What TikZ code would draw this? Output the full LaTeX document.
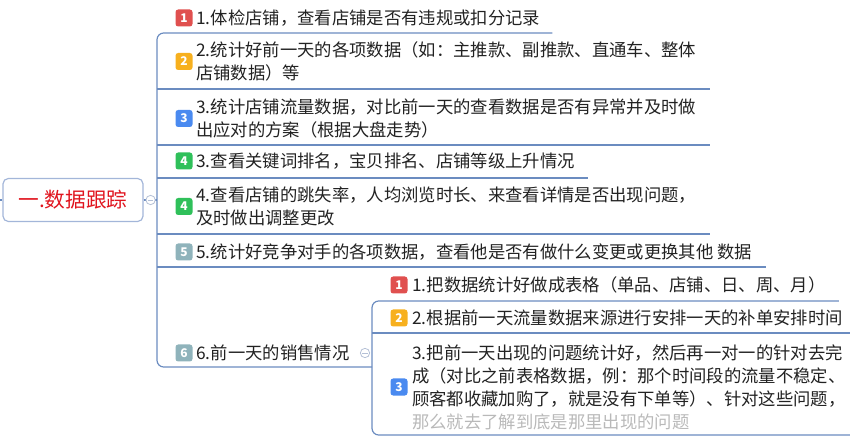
\documentclass[tikz,border=0pt]{standalone}
\usepackage{fontspec}
\setmainfont{Noto Sans CJK SC}
\definecolor{linec}{HTML}{6B8CC0}
\definecolor{rootc}{HTML}{A3B6D9}
\definecolor{foldc}{HTML}{B4C0D6}
\definecolor{textc}{HTML}{222222}
\definecolor{rootred}{HTML}{E0141E}
\definecolor{pri1}{HTML}{E0504F}
\definecolor{pri2}{HTML}{F7B01E}
\definecolor{pri3}{HTML}{4A8AF0}
\definecolor{pri4}{HTML}{2FC05A}
\definecolor{pri5}{HTML}{8FB3BB}

\begin{document}
\begin{tikzpicture}[x=0.75pt,y=-0.75pt,
font=\fontsize{13}{17.25}\selectfont,
branch/.style={draw=linec, line width=0.9pt, rounded corners=5pt},
topic/.style={anchor=west, inner sep=0pt, align=left, text=textc},
badge/.style={fill=#1, rounded corners=2pt, minimum size=12.75pt, inner sep=0pt,
    text=white, font=\fontsize{9}{9}\selectfont\bfseries},
fold/.style={circle, draw=foldc, fill=white, minimum size=7pt, inner sep=0pt, line width=0.6pt,
    path picture={\draw[foldc, line width=0.6pt] ([xshift=-2pt]path picture bounding box.center) -- ++(4pt,0);}},
root/.style={draw=rootc, line width=0.9pt, rounded corners=4pt, minimum width=105pt, minimum height=32.25pt,
    text=rootred, font=\fontsize{15.5}{18}\selectfont},
]
\useasboundingbox (0,0) rectangle (850,438);

\node[root] (root) at (73,200) {一.数据跟踪};
\coordinate (in) at (0,200);

\node[topic] (t1) at (196,18) {1.体检店铺，查看店铺是否有违规或扣分记录};
\node[topic] (t2) at (196,61.5) {2.统计好前一天的各项数据（如：主推款、副推款、直通车、整体\\店铺数据）等};
\node[topic] (t3) at (196,118.5) {3.统计店铺流量数据，对比前一天的查看数据是否有异常并及时做\\出应对的方案（根据大盘走势）};
\node[topic] (t4) at (196,161) {3.查看关键词排名，宝贝排名、店铺等级上升情况};
\node[topic] (t5) at (196,206.5) {4.查看店铺的跳失率，人均浏览时长、来查看详情是否出现问题，\\及时做出调整更改};
\node[topic] (t6) at (196,252) {5.统计好竞争对手的各项数据，查看他是否有做什么变更或更换其他 数据};
\node[topic] (t7) at (196,353) {6.前一天的销售情况};

\node[topic] (s1) at (412,285) {1.把数据统计好做成表格（单品、店铺、日、周、月）};
\node[topic] (s2) at (412,318) {2.根据前一天流量数据来源进行安排一天的补单安排时间};
\node[topic] (s3) at (412,387) {3.把前一天出现的问题统计好，然后再一对一的针对去完\\成（对比之前表格数据，例：那个时间段的流量不稳定、\\顾客都收藏加购了，就是没有下单等）、针对这些问题，\\\textcolor{gray!55}{那么就去了解到底是那里出现的问题}};

\node[badge=pri1] (b1) at (184,18) {1};
\node[badge=pri2] (b2) at (184,61.5) {2};
\node[badge=pri3] (b3) at (184,118.5) {3};
\node[badge=pri4] (b4) at (184,161) {4};
\node[badge=pri4] (b5) at (184,206.5) {4};
\node[badge=pri5] (b6) at (184,252) {5};
\node[badge=pri5] (b7) at (184,353) {6};
\node[badge=pri1] (c1) at (399,285) {1};
\node[badge=pri2] (c2) at (399,318) {2};
\node[badge=pri3] (c3) at (399,387) {3};

\coordinate (u1) at (157,33);
\coordinate (u2) at (157,89);
\coordinate (u3) at (157,145);
\coordinate (u4) at (157,178);
\coordinate (u5) at (157,234);
\coordinate (u6) at (157,267);
\coordinate (u7) at (157,367);
\coordinate (v7) at (372,367);
\coordinate (w1) at (372,301);
\coordinate (w2) at (372,333);
\coordinate (w3) at (372,435);

\draw[branch] (in) -- (root.west);
\draw[branch] (root.east) -- (root.east -| u1);
\draw[branch] ([xshift=9pt] u1 -| t1.east) -- (u1) -- (u7) -- (v7);
\draw[branch] (u2) -- ([xshift=10pt] u2 -| t2.east);
\draw[branch] (u3) -- ([xshift=10pt] u3 -| t3.east);
\draw[branch] (u4) -- ([xshift=10pt] u4 -| t4.east);
\draw[branch] (u5) -- ([xshift=10pt] u5 -| t5.east);
\draw[branch] (u6) -- ([xshift=10pt] u6 -| t6.east);

\draw[branch] ([xshift=10pt] w1 -| s1.east) -- (w1) -- (w3) -- ([xshift=10pt] w3 -| s3.east);
\draw[branch] (w2) -- ([xshift=10pt] w2 -| s2.east);

\node[fold] (f0) at ([xshift=5.25pt] root.east) {};
\node[fold] (f7) at ([xshift=-5.25pt] v7 |- t7.east) {};

\end{tikzpicture}
\end{document}
